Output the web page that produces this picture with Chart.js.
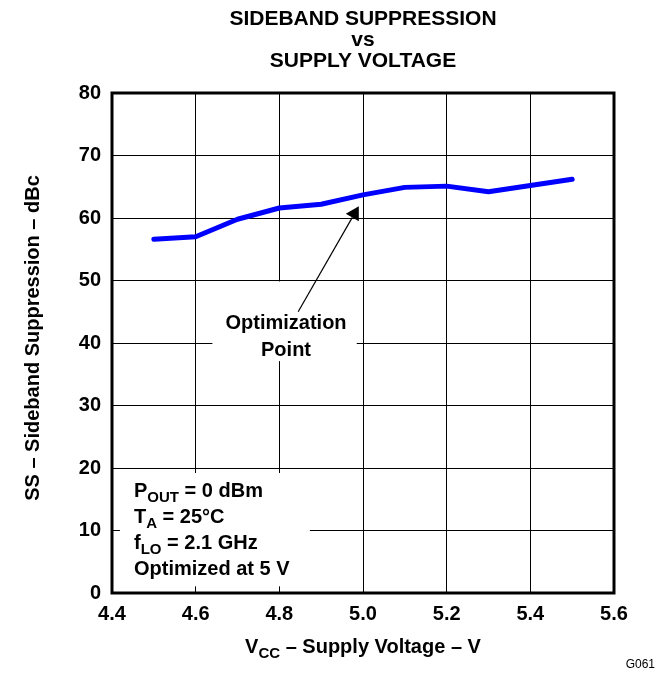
<!DOCTYPE html>
<html>
<head>
<meta charset="utf-8">
<title>Sideband Suppression vs Supply Voltage</title>
<script src="https://cdn.jsdelivr.net/npm/chart.js@4.4.1/dist/chart.umd.min.js"></script>
<style>
  html, body { margin: 0; padding: 0; background: #fff; }
  canvas { display: block; }
</style>
</head>
<body>
<canvas id="chart" width="666" height="673"></canvas>
<script>
// supply voltage, V
const voltages = [4.5, 4.6, 4.7, 4.8, 4.9, 5.0, 5.1, 5.2, 5.3, 5.4, 5.5];
// sideband suppression, dBc
const suppression = [56.6, 57.0, 59.8, 61.6, 62.2, 63.7, 64.9, 65.1, 64.2, 65.2, 66.2];

const xTicks = [4.4, 4.6, 4.8, 5.0, 5.2, 5.4, 5.6];
const yTicks = [0, 10, 20, 30, 40, 50, 60, 70, 80];

const titleLines = ["SIDEBAND SUPPRESSION", "vs", "SUPPLY VOLTAGE"];
// [text, subscript, rest]
const conditions = [
  ["P", "OUT", " = 0 dBm"],
  ["T", "A", " = 25\u00B0C"],
  ["f", "LO", " = 2.1 GHz"],
  ["Optimized at 5 V", "", ""],
];
const noteLines = ["Optimization", "Point"];

const FONT = '"Liberation Sans", Arial, Helvetica, sans-serif';
const bold = (size) => "bold " + size + "px " + FONT;

// draws text with a subscript part
function drawRich(ctx, x, y, parts, size, align) {
  const [main, sub, rest] = parts;
  const subSize = Math.round(size * 0.75);
  ctx.font = bold(size);
  const w1 = ctx.measureText(main).width;
  const w3 = ctx.measureText(rest).width;
  ctx.font = bold(subSize);
  const w2 = ctx.measureText(sub).width;
  let left = x;
  if (align === "center") left = x - (w1 + w2 + w3) / 2;
  ctx.textAlign = "left";
  ctx.textBaseline = "alphabetic";
  ctx.font = bold(size);
  ctx.fillText(main, left, y);
  ctx.font = bold(subSize);
  ctx.fillText(sub, left + w1, y + 5);
  ctx.font = bold(size);
  ctx.fillText(rest, left + w1 + w2, y);
}

const overlay = {
  id: "overlay",
  beforeDatasetsDraw(chart) {
    const { ctx, scales } = chart;
    const { x, y } = scales;
    ctx.save();
    ctx.fillStyle = "#fff";
    // box behind the test conditions
    ctx.fillRect(x.getPixelForValue(4.419), y.getPixelForValue(19.2),
      x.getPixelForValue(4.873) - x.getPixelForValue(4.419),
      y.getPixelForValue(1.07) - y.getPixelForValue(19.2));
    // box behind the optimization note
    ctx.fillRect(x.getPixelForValue(4.64), y.getPixelForValue(49.85),
      x.getPixelForValue(4.985) - x.getPixelForValue(4.64),
      y.getPixelForValue(37.1) - y.getPixelForValue(49.85));
    ctx.restore();
  },
  afterDraw(chart) {
    const { ctx, chartArea, scales } = chart;
    const { x, y } = scales;
    const cx = (chartArea.left + chartArea.right) / 2;
    ctx.save();

    // frame
    ctx.strokeStyle = "#000";
    ctx.lineWidth = 3;
    ctx.strokeRect(chartArea.left, chartArea.top,
      chartArea.right - chartArea.left, chartArea.bottom - chartArea.top);

    ctx.fillStyle = "#000";
    ctx.textAlign = "center";
    ctx.textBaseline = "alphabetic";

    // title
    ctx.font = bold(21);
    ctx.fillText(titleLines[0], cx, 25);
    ctx.fillText(titleLines[1], cx, 46);
    ctx.fillText(titleLines[2], cx, 67);

    // axis titles
    drawRich(ctx, cx, 653, ["V", "CC", " \u2013 Supply Voltage \u2013 V"], 20, "center");
    ctx.save();
    ctx.translate(39, 338);
    ctx.rotate(-Math.PI / 2);
    ctx.textAlign = "center";
    ctx.font = bold(20);
    ctx.fillText("SS \u2013 Sideband Suppression \u2013 dBc", 0, 0);
    ctx.restore();

    // test conditions
    conditions.forEach((parts, i) => {
      drawRich(ctx, 134, 497 + i * 26, parts, 20, "left");
    });

    // optimization note
    ctx.textAlign = "center";
    ctx.font = bold(20);
    const nx = x.getPixelForValue(4.816);
    const ny = y.getPixelForValue(42.2);
    ctx.fillText(noteLines[0], nx, ny);
    ctx.fillText(noteLines[1], nx, ny + 27);

    // arrow to the optimization point
    const tx = x.getPixelForValue(4.845), ty = y.getPixelForValue(45.0);
    const hx = x.getPixelForValue(4.99), hy = y.getPixelForValue(61.9);
    const len = Math.hypot(hx - tx, hy - ty);
    const ux = (hx - tx) / len, uy = (hy - ty) / len;
    const bx = hx - ux * 13, by = hy - uy * 13;
    ctx.lineWidth = 1.2;
    ctx.beginPath();
    ctx.moveTo(tx, ty);
    ctx.lineTo(bx, by);
    ctx.stroke();
    ctx.beginPath();
    ctx.moveTo(hx, hy);
    ctx.lineTo(bx - uy * 7.5, by + ux * 7.5);
    ctx.lineTo(bx + uy * 7.5, by - ux * 7.5);
    ctx.closePath();
    ctx.fill();

    // figure code
    ctx.textAlign = "right";
    ctx.font = "12px " + FONT;
    ctx.fillText("G061", 655, 668);
    ctx.restore();
  },
};

const tickFont = { family: FONT, size: 20, weight: "bold" };

new Chart(document.getElementById("chart"), {
  type: "line",
  data: {
    datasets: [{
      data: voltages.map((v, i) => ({ x: v, y: suppression[i] })),
      borderColor: "#0000ff",
      borderWidth: 5,
      borderCapStyle: "round",
      borderJoinStyle: "round",
      pointRadius: 0,
      tension: 0,
      fill: false,
    }],
  },
  options: {
    responsive: false,
    animation: false,
    events: [],
    layout: { padding: { top: 93, right: 52, left: 0, bottom: 0 } },
    plugins: {
      legend: { display: false },
      title: { display: false },
      tooltip: { enabled: false },
    },
    scales: {
      x: {
        type: "linear",
        min: 4.4,
        max: 5.6,
        afterBuildTicks: (s) => { s.ticks = xTicks.map((v) => ({ value: v })); },
        afterFit: (s) => { s.height = 80; },
        grid: { color: "#000", lineWidth: 1, drawTicks: false },
        border: { display: false },
        ticks: {
          color: "#000",
          font: tickFont,
          padding: 9,
          maxRotation: 0,
          autoSkip: false,
          callback: (v) => Number(v).toFixed(1),
        },
      },
      y: {
        type: "linear",
        min: 0,
        max: 80,
        afterBuildTicks: (s) => { s.ticks = yTicks.map((v) => ({ value: v })); },
        afterFit: (s) => { s.width = 112; },
        grid: { color: "#000", lineWidth: 1, drawTicks: false },
        border: { display: false },
        ticks: {
          color: "#000",
          font: tickFont,
          padding: 11,
          autoSkip: false,
          callback: (v) => String(v),
        },
      },
    },
  },
  plugins: [overlay],
});
</script>
</body>
</html>
